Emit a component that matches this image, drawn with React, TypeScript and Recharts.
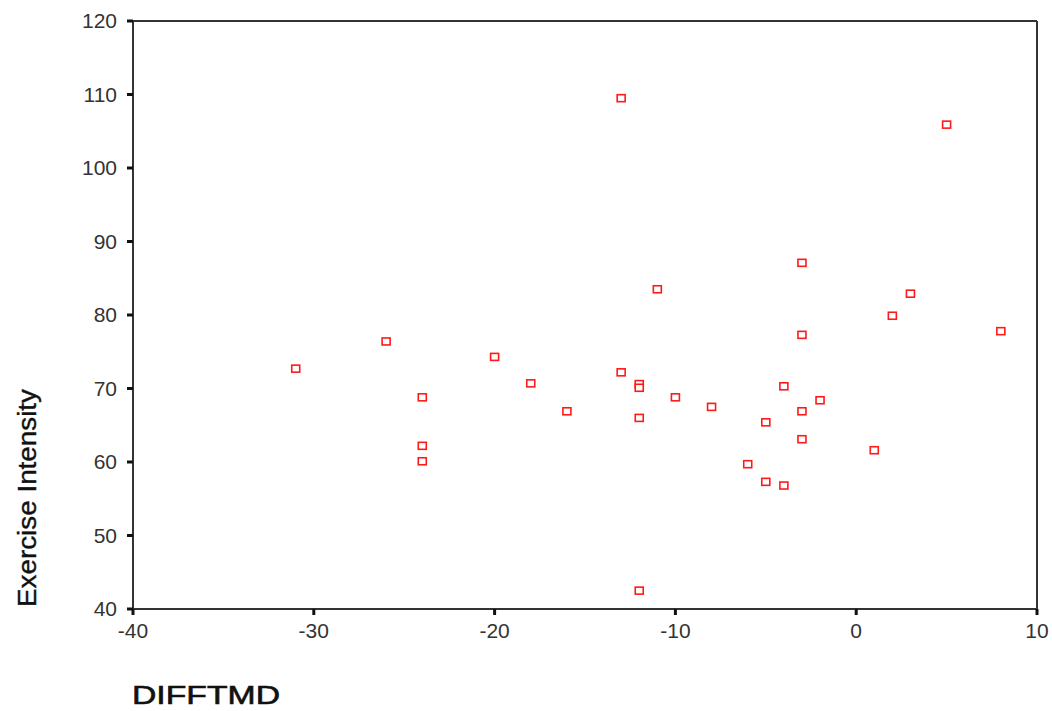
import { ScatterChart, Scatter, XAxis, YAxis, ReferenceLine } from 'recharts'

// DIFFTMD vs Exercise Intensity
const difftmd = [
  -31, -26, -24, -24, -24, -20, -18, -16, -13, -13, -12, -12, -12, -12, -11, -10,
  -8, -6, -5, -5, -4, -4, -3, -3, -3, -3, -2, 1, 2, 3, 5, 8,
]
const intensity = [
  72.7, 76.4, 68.8, 62.2, 60.1, 74.3, 70.7, 66.9, 109.5, 72.2, 70.6, 70.1, 66.0, 42.5, 83.5, 68.8,
  67.5, 59.7, 65.4, 57.3, 70.3, 56.8, 87.1, 77.3, 66.9, 63.1, 68.4, 61.6, 79.9, 82.9, 105.9, 77.8,
]
const xTicks = [-40, -30, -20, -10, 0, 10]
const yTicks = [40, 50, 60, 70, 80, 90, 100, 110, 120]

const points = difftmd.map((d, i) => ({ x: d, y: intensity[i] }))

const font = '"Liberation Sans", Arial, sans-serif'

const Box = (props: any) => {
  const { cx, cy } = props
  if (cx == null || cy == null) return null
  return <rect x={cx - 4} y={cy - 3.5} width={8} height={7} fill='#fff' stroke='#ff1a1a' strokeWidth={1.6} />
}

const YTitle = () => (
  <text
    x={36}
    y={498}
    transform='rotate(-90 36 498)'
    textAnchor='middle'
    fontFamily={font}
    fontSize={26}
    fill='#111'
    stroke='#111'
    strokeWidth={0.4}
    textLength={218}
    lengthAdjust='spacingAndGlyphs'
  >
    Exercise Intensity
  </text>
)

const XTitle = () => (
  <text
    x={132}
    y={704}
    fontFamily={font}
    fontSize={25}
    fill='#111'
    stroke='#111'
    strokeWidth={0.6}
    textLength={148}
    lengthAdjust='spacingAndGlyphs'
  >
    DIFFTMD
  </text>
)

export default function App() {
  const tick = { fill: '#333', fontSize: 21, fontFamily: font }
  const tickLine = { stroke: '#111', strokeWidth: 3 }
  return (
    <div style={{ position: 'absolute', left: 0, top: 0, background: '#fff' }}>
      <ScatterChart width={1052} height={711} margin={{ top: 21, right: 15, bottom: 0, left: 0 }}>
        <XAxis
          type='number'
          dataKey='x'
          domain={[-40, 10]}
          ticks={xTicks}
          tick={tick}
          tickLine={tickLine}
          tickSize={6}
          tickMargin={8}
          height={102}
          stroke='#333'
          strokeWidth={2}
          label={<XTitle />}
        />
        <YAxis
          type='number'
          dataKey='y'
          domain={[40, 120]}
          ticks={yTicks}
          tick={tick}
          tickLine={tickLine}
          tickSize={6}
          tickMargin={10}
          width={133}
          stroke='#333'
          strokeWidth={2}
          label={<YTitle />}
        />
        <ReferenceLine y={120} stroke='#333' strokeWidth={2} />
        <ReferenceLine x={10} stroke='#333' strokeWidth={2} />
        <Scatter data={points} shape={<Box />} isAnimationActive={false} />
      </ScatterChart>
    </div>
  )
}
